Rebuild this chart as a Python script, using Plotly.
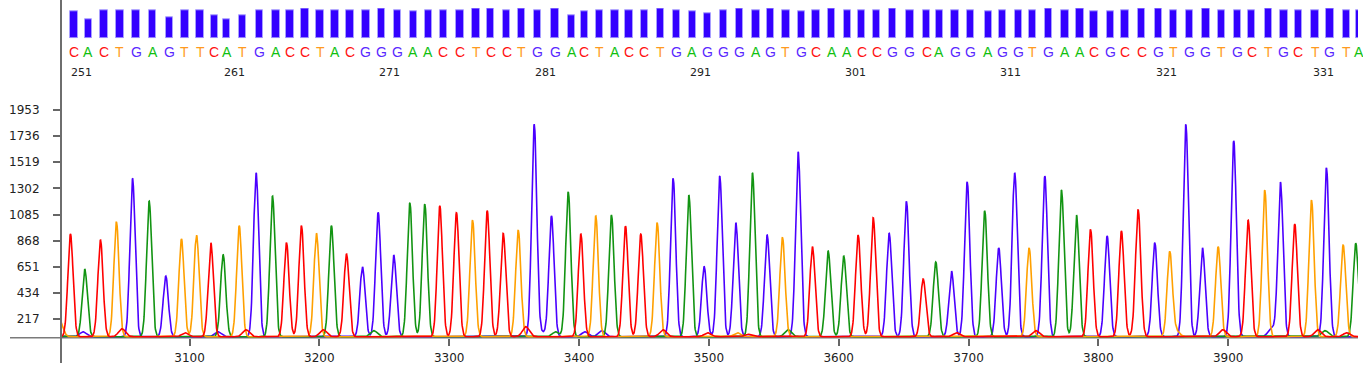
import numpy as np
import plotly.graph_objects as go

# ---------------- data ----------------
BASES = list("CACTGAGTTCATGACCTACGGGAACCTCCTGGACTACCTGAGGGAGTGCAACCGGCAGGAGGTGAACGCCGTGGTGCTGCTGTA")
FIRST_BASE_NO = 251

# scan position of each called peak
PEAK_SCAN = [3008.3, 3019.3, 3031.4, 3043.7, 3056.1, 3068.9, 3081.7, 3093.8, 3105.4, 3116.4,
             3125.9, 3138.3, 3151.3, 3163.9, 3174.7, 3186.2, 3197.8, 3209.3, 3220.9, 3233.2,
             3245.3, 3257.3, 3269.7, 3281.2, 3292.8, 3305.6, 3318.0, 3329.3, 3341.6, 3353.2,
             3365.5, 3378.8, 3391.7, 3401.4, 3412.9, 3425.0, 3435.8, 3447.6, 3460.2, 3472.5,
             3484.6, 3496.4, 3508.4, 3520.8, 3533.6, 3544.9, 3556.7, 3568.8, 3579.8, 3591.9,
             3603.9, 3615.0, 3626.6, 3638.9, 3652.2, 3665.1, 3674.8, 3686.9, 3699.0, 3712.5,
             3723.3, 3735.6, 3746.7, 3758.8, 3771.6, 3783.2, 3794.0, 3806.8, 3817.8, 3830.7,
             3843.5, 3855.0, 3867.4, 3880.2, 3892.3, 3904.3, 3915.4, 3928.2, 3940.3, 3951.3,
             3964.2, 3975.7, 3988.6, 3998.3]

# signal height of each called peak
PEAK_HEIGHT = [923, 632, 873, 1025, 1386, 1197, 574, 882, 915, 851,
               751, 992, 1432, 1239, 851, 992, 929, 992, 757, 651,
               1103, 749, 1183, 1172, 1158, 1100, 1039, 1117, 929, 956,
               1834, 1073, 1274, 923, 1073, 1081, 989, 923, 1017, 1386,
               1247, 651, 1405, 1017, 1432, 915, 896, 1607, 818, 782,
               740, 915, 1058, 929, 1195, 549, 690, 616, 1357, 1117,
               807, 1432, 807, 1405, 1289, 1081, 962, 906, 948, 1081,
               851, 771, 1834, 809, 818, 1698, 998, 1289, 1352, 1006,
               1205, 1474, 832, 846]

# base-call quality (bars)
QUALITY = [55, 38, 57, 57, 57, 57, 43, 57, 57, 46, 38, 46, 57, 57, 57, 60, 57, 57, 57, 57,
           60, 57, 54, 57, 57,
           57, 60, 60, 57, 60, 57, 60, 46, 54, 57, 57, 57, 57, 60, 57, 54, 51, 57, 60, 57,
           60, 57, 54, 57, 60, 57, 57, 57, 60,
           57, 57, 57, 57, 57, 54, 57, 57, 57, 60, 57, 60, 54, 54, 57, 60, 60, 57, 57, 60,
           57, 57, 57, 60, 57, 57, 57, 60, 57, 57]

# small secondary (noise) peaks
MINOR_BASE = list("TGCCGCCACGAGGCCTACCCTCCGCACC")
MINOR_SCAN = [2999.5, 3018, 3048, 3096.5, 3122, 3143.5, 3203, 3242, 3359, 3372, 3382, 3404.6,
              3417.5, 3464.7, 3499, 3522, 3561, 3690.9, 3752, 3829.6, 3859.8, 3895.9,
              3915.3, 3933.5, 3969, 3974.6, 3991.3, 3530]
MINOR_HEIGHT = [150, 40, 66, 33, 40, 58, 58, 50, 83, 33, 40, 40,
                50, 58, 33, 33, 58, 33, 50, 50, 50, 58,
                40, 75, 58, 50, 33, 20]

BASELINE = 70
X_TICKS = [3100, 3200, 3300, 3400, 3500, 3600, 3700, 3800, 3900]
Y_TICKS = [217, 434, 651, 868, 1085, 1302, 1519, 1736, 1953]

# ---------------- styling ----------------
W, H = 1363, 368
COLORS = {"A": "#129412", "C": "#ff0000", "G": "#4b00ff", "T": "#ffa000"}
LETTER_COLORS = {"A": "#10c010", "C": "#ff1010", "G": "#5a28ff", "T": "#ff9a20"}
SIGMA = 2.0
X_RANGE = [3001, 4000]
PX_PER_UNIT = (1358 - 61) / (X_RANGE[1] - X_RANGE[0])
LABEL_SHIFT_PX = 3.5
TICK_FONT = dict(family="DejaVu Sans", size=12, color="#222")


def py(p):
    return 1 - p / H


def px(p):
    return p / W


scan = np.arange(2990, 4010, 0.25)
fig = go.Figure()

for ch in ["G", "A", "T", "C"]:
    y = np.full(scan.shape, float(BASELINE))
    for b, pos, h in zip(BASES, PEAK_SCAN, PEAK_HEIGHT):
        if b == ch:
            y += (h - BASELINE) * np.exp(-((scan - pos) ** 2) / (2 * SIGMA ** 2))
    for b, pos, h in zip(MINOR_BASE, MINOR_SCAN, MINOR_HEIGHT):
        if b == ch:
            y += h * np.exp(-((scan - pos) ** 2) / (2 * (SIGMA * 1.3) ** 2))
    fig.add_trace(go.Scatter(x=scan, y=y, mode="lines", line=dict(color=COLORS[ch], width=1.6),
                             hoverinfo="skip", showlegend=False, xaxis="x", yaxis="y"))

# quality bars (top panel)
bar_w = 7.3 / PX_PER_UNIT
shift_units = LABEL_SHIFT_PX / PX_PER_UNIT
fig.add_trace(go.Bar(x=PEAK_SCAN, y=QUALITY, width=bar_w, offset=shift_units - bar_w / 2,
                     marker=dict(color="#3300ff", line=dict(color="#a89fff", width=1)),
                     xaxis="x", yaxis="y2", showlegend=False, hoverinfo="skip"))

annotations = []
for i, (b, pos) in enumerate(zip(BASES, PEAK_SCAN)):
    annotations.append(dict(x=pos, xref="x", y=py(52), yref="paper", text=b, showarrow=False,
                            xshift=LABEL_SHIFT_PX, xanchor="center", yanchor="middle",
                            font=dict(family="Liberation Sans", size=14, color=LETTER_COLORS[b])))
    n = FIRST_BASE_NO + i
    if (n - FIRST_BASE_NO) % 10 == 0:
        annotations.append(dict(x=pos, xref="x", y=py(72), yref="paper", text=str(n),
                                showarrow=False, xshift=-1, xanchor="left", yanchor="middle",
                                font=dict(family="DejaVu Sans", size=11, color="#222222")))

shapes = [
    dict(type="line", xref="paper", yref="paper", x0=px(61), x1=px(61), y0=py(363), y1=1.0,
         line=dict(color="#6e6e6e", width=2), layer="above"),
    dict(type="line", xref="paper", yref="paper", x0=px(10), x1=px(1358), y0=py(337.7), y1=py(337.7),
         line=dict(color="#7a7a7a", width=1.5), layer="below"),
]

val_per_px = 1 / 0.12039
y_lo = 217 - (337.7 - 319) * val_per_px
y_hi = 217 + (319 - 95) * val_per_px

fig.update_layout(
    width=W, height=H, margin=dict(l=0, r=0, t=0, b=0),
    paper_bgcolor="white", plot_bgcolor="rgba(0,0,0,0)",
    showlegend=False, bargap=0,
    xaxis=dict(domain=[px(61), px(1358)], range=X_RANGE, tickvals=X_TICKS,
               ticks="outside", ticklen=7, tickwidth=1.5, tickcolor="#666",
               showgrid=False, zeroline=False, showline=False, anchor="y",
               tickfont=TICK_FONT, ticklabelstandoff=2),
    yaxis=dict(domain=[py(337.7), py(95)], range=[y_lo, y_hi], tickvals=Y_TICKS,
               ticks="outside", ticklen=7, tickwidth=1.5, tickcolor="#666",
               showgrid=False, zeroline=False, showline=False,
               tickfont=TICK_FONT, ticklabelstandoff=11),
    yaxis2=dict(domain=[py(38.3), py(8.3)], range=[0, 60], visible=False, anchor="x"),
    annotations=annotations, shapes=shapes,
)

fig.write_html("out.html", config={"displayModeBar": False},
               post_script="document.body.style.margin='0px';document.body.style.overflow='hidden';")
